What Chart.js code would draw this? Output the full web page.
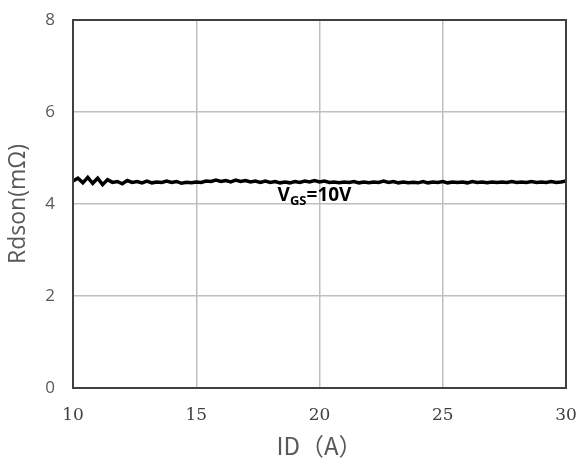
<!DOCTYPE html>
<html>
<head>
<meta charset="utf-8">
<script src="https://cdn.jsdelivr.net/npm/chart.js@4/dist/chart.umd.min.js"></script>
<style>
  html, body { margin: 0; padding: 0; background: #ffffff; }
  #wrap { width: 576px; height: 466px; }
</style>
</head>
<body>
<div id="wrap"><canvas id="rdsonChart" width="576" height="466"></canvas></div>
<script>
//Drain current values (A), step 0.2
const idValues = [
  10.0, 10.2, 10.4, 10.6, 10.8, 11.0, 11.2, 11.4, 11.6, 11.8,
  12.0, 12.2, 12.4, 12.6, 12.8, 13.0, 13.2, 13.4, 13.6, 13.8,
  14.0, 14.2, 14.4, 14.6, 14.8, 15.0, 15.2, 15.4, 15.6, 15.8,
  16.0, 16.2, 16.4, 16.6, 16.8, 17.0, 17.2, 17.4, 17.6, 17.8,
  18.0, 18.2, 18.4, 18.6, 18.8, 19.0, 19.2, 19.4, 19.6, 19.8,
  20.0, 20.2, 20.4, 20.6, 20.8, 21.0, 21.2, 21.4, 21.6, 21.8,
  22.0, 22.2, 22.4, 22.6, 22.8, 23.0, 23.2, 23.4, 23.6, 23.8,
  24.0, 24.2, 24.4, 24.6, 24.8, 25.0, 25.2, 25.4, 25.6, 25.8,
  26.0, 26.2, 26.4, 26.6, 26.8, 27.0, 27.2, 27.4, 27.6, 27.8,
  28.0, 28.2, 28.4, 28.6, 28.8, 29.0, 29.2, 29.4, 29.6, 29.8,
  30.0
];

//Rdson readings (mOhm) at VGS = 10V
const rdsonValues = [
  4.50, 4.56, 4.46, 4.58, 4.45, 4.56, 4.42, 4.53, 4.47, 4.49,
  4.44, 4.51, 4.47, 4.49, 4.46, 4.50, 4.46, 4.48, 4.47, 4.50,
  4.47, 4.49, 4.45, 4.47, 4.46, 4.48, 4.47, 4.50, 4.49, 4.52,
  4.49, 4.51, 4.48, 4.52, 4.49, 4.51, 4.48, 4.50, 4.47, 4.50,
  4.47, 4.49, 4.46, 4.48, 4.46, 4.49, 4.47, 4.50, 4.48, 4.51,
  4.48, 4.50, 4.47, 4.48, 4.46, 4.48, 4.47, 4.49, 4.46, 4.48,
  4.46, 4.48, 4.47, 4.50, 4.47, 4.49, 4.46, 4.48, 4.46, 4.47,
  4.46, 4.49, 4.46, 4.48, 4.47, 4.49, 4.46, 4.48, 4.47, 4.48,
  4.46, 4.49, 4.47, 4.48, 4.46, 4.48, 4.47, 4.48, 4.47, 4.49,
  4.47, 4.48, 4.47, 4.49, 4.47, 4.48, 4.47, 4.49, 4.47, 4.48,
  4.50
];

//Axis ticks
const xTicks = [10, 15, 20, 25, 30];
const yTicks = [0, 2, 4, 6, 8];

//Curve label
const curveLabel = { main: "V", sub: "GS", rest: "=10V", x: 18.3, y: 4.06 };

const points = idValues.map((x, i) => ({ x: x, y: rdsonValues[i] }));

//Draws the closed plot frame
const frameBox = {
  id: "frameBox",
  afterDatasetsDraw(chart) {
    const { ctx, chartArea: a } = chart;
    ctx.save();
    ctx.strokeStyle = "#404040";
    ctx.lineWidth = 2;
    ctx.strokeRect(a.left, a.top, a.right - a.left, a.bottom - a.top);
    ctx.restore();
  }
};

//Writes the VGS=10V label with a subscript
const curveText = {
  id: "curveText",
  afterDatasetsDraw(chart) {
    const ctx = chart.ctx;
    const px = chart.scales.x.getPixelForValue(curveLabel.x);
    const py = chart.scales.y.getPixelForValue(curveLabel.y);
    ctx.save();
    ctx.fillStyle = "#000000";
    ctx.textBaseline = "alphabetic";
    ctx.font = "bold 19px 'Open Sans'";
    ctx.fillText(curveLabel.main, px, py);
    let w = ctx.measureText(curveLabel.main).width;
    ctx.font = "bold 13px 'Open Sans'";
    ctx.fillText(curveLabel.sub, px + w, py + 4);
    w += ctx.measureText(curveLabel.sub).width;
    ctx.font = "bold 19px 'Open Sans'";
    ctx.fillText(curveLabel.rest, px + w, py);
    ctx.restore();
  }
};

new Chart(document.getElementById("rdsonChart"), {
  type: "line",
  data: {
    datasets: [
      {
        label: "Rdson",
        data: points,
        borderColor: "#000000",
        borderWidth: 3.5,
        pointRadius: 0,
        tension: 0,
        fill: false
      }
    ]
  },
  plugins: [frameBox, curveText],
  options: {
    responsive: false,
    animation: false,
    layout: { padding: { top: 20, right: 10, bottom: 0, left: 0 } },
    plugins: { legend: { display: false }, tooltip: { enabled: false } },
    scales: {
      x: {
        type: "linear",
        min: 10,
        max: 30,
        afterBuildTicks: (s) => { s.ticks = xTicks.map((v) => ({ value: v })); },
        afterFit: (s) => { s.height = 78; s.paddingLeft = 0; s.paddingRight = 0; },
        ticks: {
          color: "#404040",
          font: { family: "'DejaVu Serif'", size: 17 },
          padding: 17
        },
        grid: { color: "#bfbfbf", lineWidth: 1.5, drawTicks: false },
        border: { display: false },
        title: {
          display: true,
          text: "ID（A）",
          color: "#595959",
          font: { family: "'Noto Sans CJK SC'", size: 24 },
          padding: { top: 0, bottom: 6 }
        }
      },
      y: {
        min: 0,
        max: 8,
        afterBuildTicks: (s) => { s.ticks = yTicks.map((v) => ({ value: v })); },
        afterFit: (s) => { s.width = 73; s.paddingTop = 0; s.paddingBottom = 0; },
        ticks: {
          color: "#595959",
          font: { family: "'Open Sans'", size: 17 },
          padding: 18
        },
        grid: { color: "#bfbfbf", lineWidth: 1.5, drawTicks: false },
        border: { display: false },
        title: {
          display: true,
          text: "Rdson(mΩ)",
          color: "#595959",
          font: { family: "'Open Sans'", size: 23 },
          padding: { top: 5, bottom: 0 }
        }
      }
    }
  }
});
</script>
</body>
</html>
